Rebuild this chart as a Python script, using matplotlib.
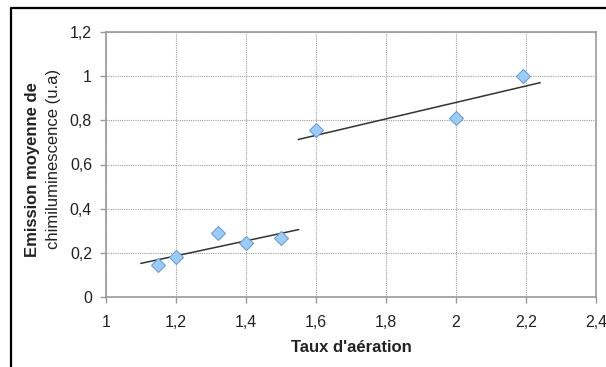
import matplotlib
matplotlib.use("Agg")
import matplotlib.pyplot as plt
from matplotlib.lines import Line2D
from matplotlib.ticker import FuncFormatter
import numpy as np

# Data
taux_low = [1.15, 1.20, 1.32, 1.40, 1.50]
emission_low = [0.145, 0.18, 0.29, 0.245, 0.265]
taux_high = [1.60, 2.00, 2.19]
emission_high = [0.755, 0.81, 1.00]
trend_low_range = [1.10, 1.55]
trend_high_range = [1.55, 2.24]
x_ticks = [1.0, 1.2, 1.4, 1.6, 1.8, 2.0, 2.2, 2.4]
y_ticks = [0.0, 0.2, 0.4, 0.6, 0.8, 1.0, 1.2]

plt.rcParams['font.family'] = ['Liberation Sans', 'DejaVu Sans']

W, H = 606, 367
fig = plt.figure(figsize=(W/100, H/100), dpi=100)
ax = fig.add_axes([106/W, 1-297/H, 490/W, 265/H])

grey = '#9a9a9a'
ax.grid(True, linestyle=(0, (1, 1)), color='#a0a0a0', linewidth=0.8)
ax.set_axisbelow(True)

# trend lines (linear regression)
for xs, ys, rng in [(taux_low, emission_low, trend_low_range),
                    (taux_high, emission_high, trend_high_range)]:
    p = np.polyfit(xs, ys, 1)
    xr = np.array(rng)
    ax.plot(xr, np.polyval(p, xr), color='#333333', linewidth=1.1, zorder=3)

ax.plot(taux_low + taux_high, emission_low + emission_high, linestyle='none',
        marker='D', markersize=7, markerfacecolor='#99CCFF',
        markeredgecolor='#6f9fcf', markeredgewidth=0.8, zorder=4)

ax.set_xlim(1.0, 2.4)
ax.set_ylim(0.0, 1.2)
ax.set_xticks(x_ticks)
ax.set_yticks(y_ticks)
fmt = FuncFormatter(lambda v, pos: ('%g' % round(v, 2)).replace('.', ','))
ax.xaxis.set_major_formatter(fmt)
ax.yaxis.set_major_formatter(fmt)

for s in ax.spines.values():
    s.set_color(grey)
    s.set_linewidth(1.2)
ax.tick_params(axis='both', colors=grey, labelcolor='#222222', labelsize=11.5,
               length=4, width=1.0)
ax.tick_params(axis='x', pad=9)
ax.tick_params(axis='y', pad=6)

# axis labels
fig.text(351.5/W, 1-348/H, "Taux d'aération", fontsize=12, fontweight='bold',
         color='#222222', ha='center', va='center')
fig.text(33/W, 1-170/H, "Emission moyenne de", fontsize=12, fontweight='bold',
         color='#222222', ha='center', va='center', rotation=90)
fig.text(54/W, 1-159/H, "chimiluminescence (u.a)", fontsize=12,
         color='#222222', ha='center', va='center', rotation=90)

# outer black frame (left and top)
fx = 11/W
fy = 1 - 8/H
fig.add_artist(Line2D([fx, fx, 1.0], [0.0, fy, fy], transform=fig.transFigure,
                      color='black', linewidth=1.6))

fig.savefig('out.png', dpi=100)
